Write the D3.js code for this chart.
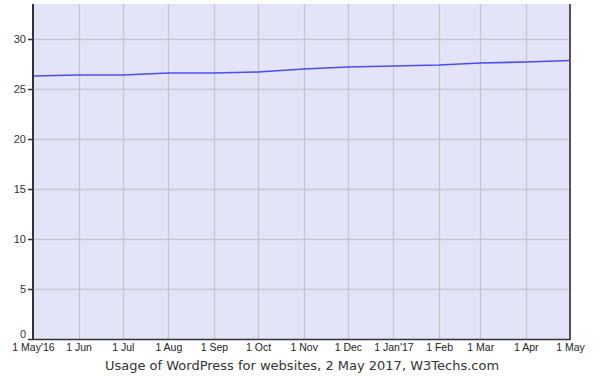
<!DOCTYPE html>
<html>
<head>
<meta charset="utf-8">
<script src="https://cdn.jsdelivr.net/npm/d3@7"></script>
<style>
  body { margin: 0; background: #fff; }
  svg { display: block; }
</style>
</head>
<body>
<script>
// Data
const months = ['2016-05-01', '2016-06-01', '2016-07-01', '2016-08-01', '2016-09-01', '2016-10-01',
  '2016-11-01', '2016-12-01', '2017-01-01', '2017-02-01', '2017-03-01', '2017-04-01', '2017-05-01'];
const usage = [26.3, 26.4, 26.4, 26.6, 26.6, 26.7, 27.0, 27.2, 27.3, 27.4, 27.6, 27.7, 27.85];
const tickLabels = ["1 May'16", '1 Jun', '1 Jul', '1 Aug', '1 Sep', '1 Oct', '1 Nov',
  '1 Dec', "1 Jan'17", '1 Feb', '1 Mar', '1 Apr', '1 May'];
const yTicks = [0, 5, 10, 15, 20, 25, 30];
const title = 'Usage of WordPress for websites, 2 May 2017, W3Techs.com';

// Dimensions
const width = 601;
const height = 376;
const plotLeft = 33, plotRight = 570, plotTop = 4, plotBottom = 339;

const parse = d3.timeParse('%Y-%m-%d');
const dates = months.map(parse);

const svg = d3.select('body')
  .append('svg')
  .attr('width', width)
  .attr('height', height);

const x = d3.scaleTime()
  .domain([dates[0], dates[dates.length - 1]])
  .range([plotLeft, plotRight]);

const y = d3.scaleLinear()
  .domain([0, 30])
  .range([plotBottom, plotBottom - 300]);

// Plot background
svg.append('rect')
  .attr('x', plotLeft)
  .attr('y', plotTop)
  .attr('width', plotRight - plotLeft)
  .attr('height', plotBottom - plotTop)
  .attr('fill', '#e4e4f8');

// Grid lines
svg.append('g')
  .selectAll('line')
  .data(yTicks.slice(1))
  .enter()
  .append('line')
  .attr('x1', plotLeft)
  .attr('x2', plotRight)
  .attr('y1', d => y(d) + 0.5)
  .attr('y2', d => y(d) + 0.5)
  .attr('stroke', '#c6c6cc')
  .attr('stroke-width', 1.3);

svg.append('g')
  .selectAll('line')
  .data(dates.slice(1, -1))
  .enter()
  .append('line')
  .attr('x1', d => Math.round(x(d)) + 0.5)
  .attr('x2', d => Math.round(x(d)) + 0.5)
  .attr('y1', plotTop)
  .attr('y2', plotBottom)
  .attr('stroke', '#c6c6cc')
  .attr('stroke-width', 1.3);

// Data line
const line = d3.line()
  .x((d, i) => x(dates[i]))
  .y(d => y(d));

svg.append('path')
  .datum(usage)
  .attr('d', line)
  .attr('fill', 'none')
  .attr('stroke', '#4c4cf4')
  .attr('stroke-width', 1.6);

// Y axis
const yAxis = d3.axisLeft(y)
  .tickValues(yTicks)
  .tickSize(5)
  .tickSizeOuter(0)
  .tickPadding(2);

const gy = svg.append('g')
  .attr('transform', `translate(${plotLeft},0)`)
  .call(yAxis);
gy.select('.domain').remove();
gy.selectAll('.tick line').attr('stroke', '#333').attr('stroke-width', 1.5);
gy.selectAll('.tick text')
  .attr('fill', '#333')
  .style('font', '11px "Liberation Sans", Arial, sans-serif');
gy.selectAll('.tick').filter(d => d === 0).select('text').attr('dy', '-0.1em');

// Axis frame lines
svg.append('line')
  .attr('x1', plotLeft).attr('x2', plotLeft)
  .attr('y1', plotTop).attr('y2', plotBottom + 1)
  .attr('stroke', '#333').attr('stroke-width', 2);
svg.append('line')
  .attr('x1', plotRight).attr('x2', plotRight)
  .attr('y1', plotTop).attr('y2', plotBottom + 1)
  .attr('stroke', '#555').attr('stroke-width', 2);
svg.append('line')
  .attr('x1', plotLeft).attr('x2', plotRight)
  .attr('y1', plotBottom + 0.5).attr('y2', plotBottom + 0.5)
  .attr('stroke', '#333').attr('stroke-width', 1.5);

// X axis labels
const xAxis = d3.axisBottom(x)
  .tickValues(dates)
  .tickFormat((d, i) => tickLabels[i])
  .tickSize(0)
  .tickPadding(5);

const gx = svg.append('g')
  .attr('transform', `translate(0,${plotBottom})`)
  .call(xAxis);
gx.select('.domain').remove();
gx.selectAll('.tick text')
  .attr('fill', '#222')
  .style('font', '10.5px "Liberation Sans", Arial, sans-serif');

// Title
svg.append('text')
  .attr('x', 302)
  .attr('y', 370)
  .attr('text-anchor', 'middle')
  .attr('fill', '#333')
  .style('font', '13px "DejaVu Sans", Verdana, sans-serif')
  .text(title);
</script>
</body>
</html>
